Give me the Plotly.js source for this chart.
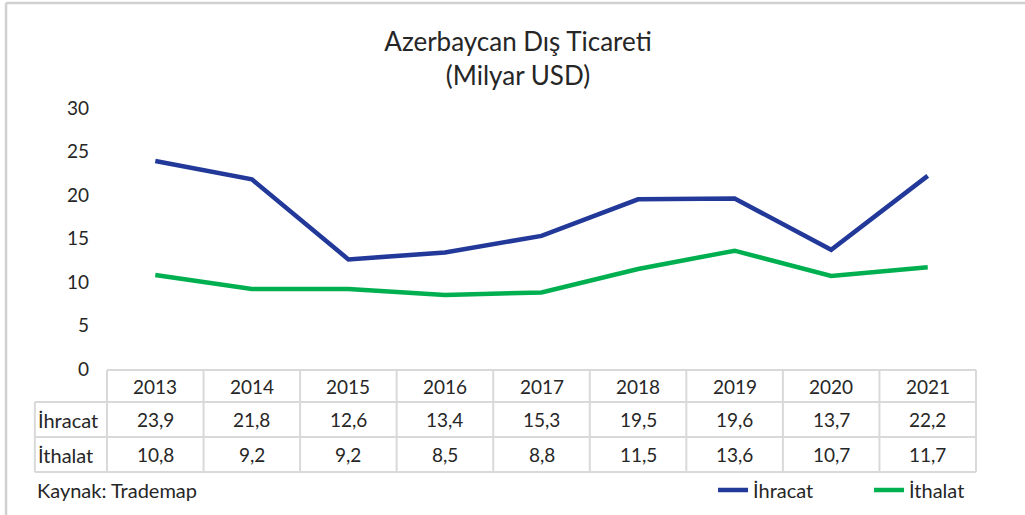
<!DOCTYPE html>
<html><head><meta charset="utf-8">
<script src="https://cdn.plot.ly/plotly-3.0.1.min.js"></script>
<style>html,body{margin:0;padding:0;background:#fff;}#chart{width:1025px;height:515px;}</style>
</head><body><div id="chart"></div>
<script>
const years = ['2013','2014','2015','2016','2017','2018','2019','2020','2021'];
const ihracat = [23.9, 21.8, 12.6, 13.4, 15.3, 19.5, 19.6, 13.7, 22.2];
const ithalat = [10.8, 9.2, 9.2, 8.5, 8.8, 11.5, 13.6, 10.7, 11.7];
const seriesNames = ['İhracat', 'İthalat'];
const seriesColors = ['#22399A', '#00B050'];
const yTicks = [0, 5, 10, 15, 20, 25, 30];
const titleText = 'Azerbaycan Dış Ticareti';
const subtitleText = '(Milyar USD)';
const sourceText = 'Kaynak: Trademap';

const FONT = 'Lato, "Open Sans", sans-serif';
const TXT = '#262626';
const GRID = '#d9d9d9';
const fmt = v => v.toFixed(1).replace('.', ',');

// table geometry (paper coords)
const rowLines = [-0.004, -0.126, -0.261, -0.395];
const rowCenters = [-0.066, -0.194, -0.328];
const labelLeft = -0.083;

const traces = [ihracat, ithalat].map((vals, i) => ({
  type: 'scatter', mode: 'lines', x: years, y: vals, name: seriesNames[i],
  line: {color: seriesColors[i], width: 4.5}, hoverinfo: 'x+y+name'
}));

const shapes = [];
const lineStyle = {color: GRID, width: 2};
shapes.push({type:'line', xref:'paper', yref:'paper', x0:0, x1:1, y0:rowLines[0], y1:rowLines[0], line:lineStyle});
for (let r = 1; r < rowLines.length; r++) {
  shapes.push({type:'line', xref:'paper', yref:'paper', x0:labelLeft, x1:1, y0:rowLines[r], y1:rowLines[r], line:lineStyle});
}
for (let c = 0; c <= years.length; c++) {
  const xp = c / years.length;
  shapes.push({type:'line', xref:'paper', yref:'paper', x0:xp, x1:xp, y0:rowLines[0], y1:rowLines[3], line:lineStyle});
}
shapes.push({type:'line', xref:'paper', yref:'paper', x0:labelLeft, x1:labelLeft, y0:rowLines[1], y1:rowLines[3], line:lineStyle});
// outer frame (left and top)
shapes.push({type:'line', xref:'paper', yref:'paper', x0:-0.1162, x1:-0.1162, y0:1.402, y1:-0.7, line:{color:'#d0d0d0', width:2.5}});
shapes.push({type:'line', xref:'paper', yref:'paper', x0:-0.1162, x1:1.1, y0:1.402, y1:1.402, line:{color:'#d0d0d0', width:2.5}});

const annotations = [];
const tf = {family: FONT, size: 19, color: TXT};
const lf = {family: FONT, size: 20, color: TXT};
const cell = (x, xref, y, text, font, xanchor) => ({x, xref, y, yref:'paper', text, showarrow:false, font,
  xanchor: xanchor || 'center', yanchor: 'middle'});
years.forEach((yr, i) => {
  annotations.push(cell(i, 'x', rowCenters[0], yr, tf));
  annotations.push(cell(i, 'x', rowCenters[1], fmt(ihracat[i]), tf));
  annotations.push(cell(i, 'x', rowCenters[2], fmt(ithalat[i]), tf));
});
seriesNames.forEach((n, i) => {
  annotations.push(cell(labelLeft + 0.001, 'paper', rowCenters[i+1], n, lf, 'left'));
});
annotations.push(cell(labelLeft, 'paper', -0.4636, sourceText, lf, 'left'));

const layout = {
  width: 1025, height: 515,
  margin: {l: 107, r: 49, t: 108, b: 146, autoexpand: false},
  paper_bgcolor: '#fff', plot_bgcolor: '#fff',
  font: {family: FONT, color: TXT},
  title: {text: titleText + '<br>' + subtitleText, font: {family: FONT, size: 26, color: TXT},
          x: 518/1025, xref: 'container', xanchor: 'center', y: 1 - 51/515, yref: 'container', yanchor: 'top'},
  xaxis: {type: 'category', range: [-0.5, 8.5], showticklabels: false, showgrid: false, zeroline: false, showline: false, ticks: '', fixedrange: true},
  yaxis: {range: [0, 30], tickvals: yTicks, ticktext: yTicks.map(String), showgrid: false, zeroline: false, showline: false, ticks: '',
          ticklabelstandoff: 17, tickfont: {family: FONT, size: 19, color: TXT}, fixedrange: true},
  showlegend: true,
  legend: {orientation: 'h', x: 0.6974, xanchor: 'left', y: -0.4636, yanchor: 'middle', font: {family: FONT, size: 20, color: TXT},
           entrywidth: 111, entrywidthmode: 'pixels', bgcolor: 'rgba(0,0,0,0)'},
  shapes: shapes, annotations: annotations
};
Plotly.newPlot('chart', traces, layout, {displayModeBar: false, responsive: false});
</script></body></html>
